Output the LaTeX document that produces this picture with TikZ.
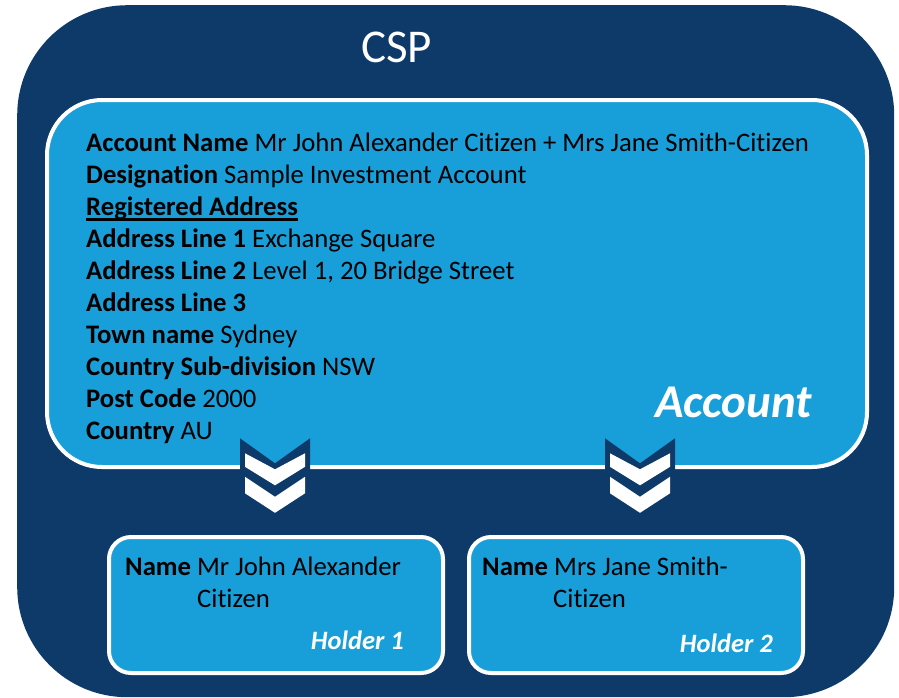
\documentclass[tikz,border=0pt]{standalone}
\usepackage{fontspec}
\setmainfont{Carlito}[Ligatures={NoCommon}]
\definecolor{navy}{HTML}{0E3A6A}
\definecolor{sky}{HTML}{189FD9}
\tikzset{
  txt/.style={anchor=base west,inner sep=0pt,font=\fontsize{26.7}{32}\selectfont},
  panel/.style={draw=white,line width=4pt,fill=sky,inner sep=0pt,anchor=north west},
  tag/.style={anchor=base east,inner sep=0pt,text=white,font=\fontsize{26.5}{32}\selectfont\bfseries\itshape},
  chev/.pic={
    \fill[navy] (-35,0) -- (0,25) -- (35,0) -- (35,62) -- (0,82) -- (-35,62) -- cycle;
    \fill[white] (-30,15) -- (0,31) -- (30,15) -- (30,28.5) -- (0,47) -- (-30,28.5) -- cycle;
    \fill[white] (-30,38.5) -- (0,58.5) -- (30,38.5) -- (30,55) -- (0,74.5) -- (-30,55) -- cycle;
  }
}
\begin{document}
\begin{tikzpicture}[x=1pt,y=-1pt]
\useasboundingbox (0,0) rectangle (899,697);
\node[fill=navy,rounded corners=110pt,inner sep=0pt,anchor=north west,minimum width=877pt,minimum height=692pt] (csp) at (17,5) {};
\node[anchor=base,inner sep=0pt,text=white,font=\fontsize{47}{56}\selectfont] (csptitle) at (396.5,62) {CSP};
% account panel
\node[panel,rounded corners=55pt,minimum width=820pt,minimum height=367pt] (acct) at (45,98) {};
\node[txt] (a1) at (86,151) {\textbf{Account Name} Mr John Alexander Citizen + Mrs Jane Smith-Citizen};
\node[txt] (a2) at (86,183) {\textbf{Designation} Sample Investment Account};
\node[txt] (a3) at (86,215) {\textbf{Registered Address}};
\draw[line width=2.5pt] ([yshift=-4.5pt]a3.base west) -- ([yshift=-4.5pt]a3.base east);
\node[txt] (a4) at (86,247) {\textbf{Address Line 1} Exchange Square};
\node[txt] (a5) at (86,279) {\textbf{Address Line 2} Level 1, 20 Bridge Street};
\node[txt] (a6) at (86,311) {\textbf{Address Line 3}};
\node[txt] (a7) at (86,343) {\textbf{Town name} Sydney};
\node[txt] (a8) at (86,375) {\textbf{Country Sub-division} NSW};
\node[txt] (a9) at (86,407) {\textbf{Post Code} 2000};
\node[txt] (a10) at (86,439) {\textbf{Country} AU};
\node[anchor=base east,inner sep=0pt,text=white,font=\fontsize{47}{56}\selectfont\bfseries\itshape] (acctlbl) at (812,417) {Account};
% chevrons
\pic at (275,438.3) {chev};
\pic at (640,438.3) {chev};
% holders
\node[panel,rounded corners=22pt,minimum width=334pt,minimum height=136pt] (h1) at (107,535) {};
\node[txt] (h1n) at (125,575) {\textbf{Name} Mr John Alexander};
\node[txt] (h1c) at (197,607) {Citizen};
\node[tag] (h1t) at (404,649) {Holder 1};
\node[panel,rounded corners=22pt,minimum width=334pt,minimum height=136pt] (h2) at (467,535) {};
\node[txt] (h2n) at (482,575) {\textbf{Name} Mrs Jane Smith-};
\node[txt] (h2c) at (553,607) {Citizen};
\node[tag] (h2t) at (773,652) {Holder 2};
\end{tikzpicture}
\end{document}
